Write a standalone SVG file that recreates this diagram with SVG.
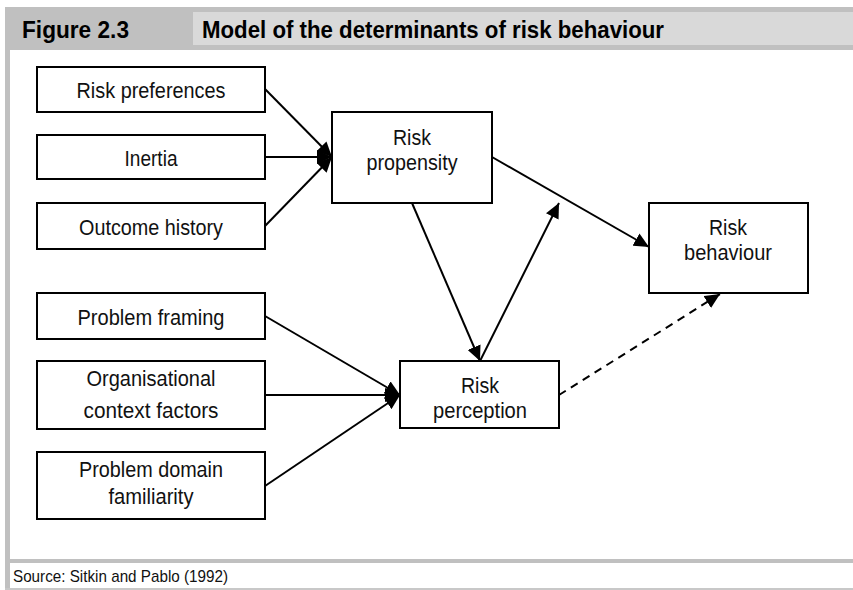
<svg xmlns="http://www.w3.org/2000/svg" width="853" height="590" viewBox="0 0 853 590">
  <style>
    .box { fill: #ffffff; stroke: #000000; stroke-width: 2; }
    .lbl { font-family: "Liberation Sans", Arial, sans-serif; font-size: 22px; fill: #111111; text-anchor: middle; }
    .hdr { font-family: "Liberation Sans", Arial, sans-serif; font-size: 24px; font-weight: bold; fill: #000000; }
    .src { font-family: "Liberation Sans", Arial, sans-serif; font-size: 17px; fill: #111111; }
    .edge { stroke: #000000; stroke-width: 2; fill: none; }
    .dash { stroke-dasharray: 8 6; }
  </style>
  <defs>
    <marker id="arrow" markerUnits="userSpaceOnUse" markerWidth="16" markerHeight="14" refX="15" refY="7" orient="auto">
      <path d="M0,0 L15,7 L0,14 Z" fill="#000000"/>
    </marker>
  </defs>

  <!-- page background -->
  <rect x="0" y="0" width="853" height="590" fill="#ffffff"/>

  <!-- title band -->
  <g id="title-band">
    <rect x="5" y="7" width="848" height="43" fill="#c0c0c0"/>
    <rect x="193" y="12" width="660" height="33" fill="#d9d9d9"/>
    <text class="hdr" x="22" y="38" textLength="107" lengthAdjust="spacingAndGlyphs">Figure 2.3</text>
    <text class="hdr" x="202" y="38" textLength="462" lengthAdjust="spacingAndGlyphs">Model of the determinants of risk behaviour</text>
  </g>

  <!-- frame rules -->
  <g id="frame">
    <rect x="5" y="50" width="5" height="540" fill="#c0c0c0"/>
    <rect x="5" y="559" width="848" height="4" fill="#c0c0c0"/>
    <rect x="5" y="588" width="848" height="2" fill="#c8c8c8"/>
  </g>

  <!-- connectors -->
  <g id="connectors">
    <line class="edge" x1="265" y1="89" x2="332" y2="157" marker-end="url(#arrow)"/>
    <line class="edge" x1="265" y1="157" x2="332" y2="157" marker-end="url(#arrow)"/>
    <line class="edge" x1="265" y1="226" x2="332" y2="157" marker-end="url(#arrow)"/>
    <line class="edge" x1="265" y1="316" x2="400" y2="395" marker-end="url(#arrow)"/>
    <line class="edge" x1="265" y1="395" x2="400" y2="395" marker-end="url(#arrow)"/>
    <line class="edge" x1="265" y1="486" x2="400" y2="395" marker-end="url(#arrow)"/>
    <line class="edge" x1="412" y1="203" x2="480" y2="361" marker-end="url(#arrow)"/>
    <line class="edge" x1="480" y1="361" x2="559" y2="203" marker-end="url(#arrow)"/>
    <line class="edge" x1="492" y1="157" x2="649" y2="247" marker-end="url(#arrow)"/>
    <line class="edge dash" x1="559" y1="395" x2="720" y2="294" marker-end="url(#arrow)"/>
  </g>

  <!-- nodes -->
  <g id="risk-preferences">
    <rect class="box" x="37" y="67" width="228" height="45"/>
    <text class="lbl" x="151" y="98" textLength="149" lengthAdjust="spacingAndGlyphs">Risk preferences</text>
  </g>
  <g id="inertia">
    <rect class="box" x="37" y="135" width="228" height="44"/>
    <text class="lbl" x="151" y="166" textLength="53" lengthAdjust="spacingAndGlyphs">Inertia</text>
  </g>
  <g id="outcome-history">
    <rect class="box" x="37" y="203" width="228" height="46"/>
    <text class="lbl" x="151" y="235" textLength="144" lengthAdjust="spacingAndGlyphs">Outcome history</text>
  </g>
  <g id="problem-framing">
    <rect class="box" x="37" y="293" width="228" height="46"/>
    <text class="lbl" x="151" y="325" textLength="147" lengthAdjust="spacingAndGlyphs">Problem framing</text>
  </g>
  <g id="organisational-context">
    <rect class="box" x="37" y="361" width="228" height="68"/>
    <text class="lbl" x="151" y="386" textLength="129" lengthAdjust="spacingAndGlyphs">Organisational</text>
    <text class="lbl" x="151" y="418" textLength="135" lengthAdjust="spacingAndGlyphs">context factors</text>
  </g>
  <g id="problem-domain">
    <rect class="box" x="37" y="452" width="228" height="67"/>
    <text class="lbl" x="151" y="477" textLength="144" lengthAdjust="spacingAndGlyphs">Problem domain</text>
    <text class="lbl" x="151" y="504" textLength="85" lengthAdjust="spacingAndGlyphs">familiarity</text>
  </g>
  <g id="risk-propensity">
    <rect class="box" x="332" y="112" width="160" height="91"/>
    <text class="lbl" x="412" y="145" textLength="38" lengthAdjust="spacingAndGlyphs">Risk</text>
    <text class="lbl" x="412" y="170" textLength="91" lengthAdjust="spacingAndGlyphs">propensity</text>
  </g>
  <g id="risk-perception">
    <rect class="box" x="400" y="361" width="159" height="67"/>
    <text class="lbl" x="480" y="393" textLength="38" lengthAdjust="spacingAndGlyphs">Risk</text>
    <text class="lbl" x="480" y="418" textLength="94" lengthAdjust="spacingAndGlyphs">perception</text>
  </g>
  <g id="risk-behaviour">
    <rect class="box" x="649" y="203" width="159" height="90"/>
    <text class="lbl" x="728" y="235" textLength="38" lengthAdjust="spacingAndGlyphs">Risk</text>
    <text class="lbl" x="728" y="260" textLength="88" lengthAdjust="spacingAndGlyphs">behaviour</text>
  </g>

  <!-- source note -->
  <text class="src" x="13" y="582" textLength="215" lengthAdjust="spacingAndGlyphs">Source: Sitkin and Pablo (1992)</text>
</svg>
